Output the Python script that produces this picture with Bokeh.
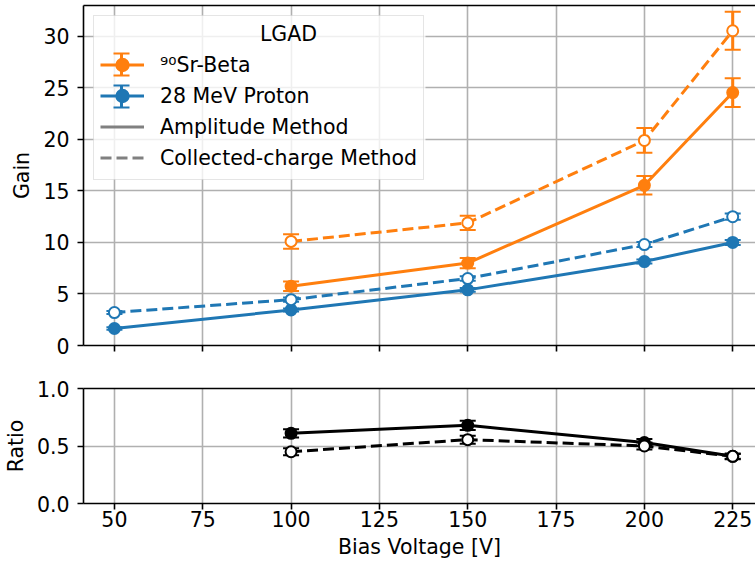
from bokeh.plotting import figure
from bokeh.layouts import column
from bokeh.models import (ColumnDataSource, Whisker, TeeHead, Legend, LegendItem,
                          LinearAxis, FixedTicker, Range1d, NumeralTickFormatter, Label,
                          BoxAnnotation)
from bokeh.embed import file_html
from bokeh.resources import INLINE

# ---- data -------------------------------------------------------------
x_ticks = [50, 75, 100, 125, 150, 175, 200, 225]
gain_ticks = [0, 5, 10, 15, 20, 25, 30]
ratio_ticks = [0.0, 0.5, 1.0]

voltage_beta = [100, 150, 200, 225]
voltage_proton = [50, 100, 150, 200, 225]

beta_amp = [5.75, 8.0, 15.55, 24.55]
beta_amp_err = [0.45, 0.5, 0.9, 1.4]
beta_coll = [10.1, 11.9, 19.9, 30.55]
beta_coll_err = [0.7, 0.7, 1.2, 1.85]

proton_amp = [1.65, 3.45, 5.4, 8.15, 10.0]
proton_amp_err = [0.12, 0.15, 0.18, 0.2, 0.25]
proton_coll = [3.2, 4.45, 6.5, 9.8, 12.5]
proton_coll_err = [0.15, 0.2, 0.22, 0.25, 0.3]

ratio_amp = [0.61, 0.68, 0.53, 0.41]
ratio_amp_err = [0.035, 0.04, 0.03, 0.02]
ratio_coll = [0.45, 0.555, 0.50, 0.41]
ratio_coll_err = [0.03, 0.035, 0.03, 0.025]

# ---- style ------------------------------------------------------------
ORANGE = "#ff7f0e"
BLUE = "#1f77b4"
FONT = "DejaVu Sans"
FS = "20.5px"
GRID = "#b0b0b0"
LW = 3
DASH = "11 5"
NAN = float("nan")


def style_axes(fig):
    for ax in fig.axis:
        ax.axis_line_width = 1.6
        ax.axis_line_color = "black"
        ax.major_tick_line_width = 1.6
        ax.major_tick_out = 6
        ax.major_tick_in = 0
        ax.minor_tick_out = 0
        ax.minor_tick_in = 0
        ax.major_label_text_font = FONT
        ax.major_label_text_font_size = FS
        ax.major_label_text_color = "black"
        ax.axis_label_text_font = FONT
        ax.axis_label_text_font_size = FS
        ax.axis_label_text_font_style = "normal"
        ax.axis_label_text_color = "black"
    for g in fig.grid:
        g.grid_line_color = GRID
        g.grid_line_width = 1.6
    fig.outline_line_color = None
    fig.background_fill_color = "white"
    fig.border_fill_color = "white"
    # top border of the frame
    top = LinearAxis(ticker=FixedTicker(ticks=[]), major_tick_out=0, major_tick_in=0,
                     minor_tick_out=0, minor_tick_in=0, major_label_standoff=0,
                     axis_line_width=1.6, axis_line_color="black")
    fig.add_layout(top, "above")


def errorbar(fig, x, y, err, color, fill, dash=None, size=11):
    src = ColumnDataSource(dict(x=x, y=y,
                                lo=[v - e for v, e in zip(y, err)],
                                hi=[v + e for v, e in zip(y, err)]))
    fig.add_layout(Whisker(source=src, base="x", lower="lo", upper="hi",
                           dimension="height", line_color=color, line_width=LW,
                           lower_head=TeeHead(size=16, line_color=color, line_width=2),
                           upper_head=TeeHead(size=16, line_color=color, line_width=2)))
    kw = dict(line_dash=dash) if dash else {}
    ln = fig.line("x", "y", source=src, line_color=color, line_width=LW, **kw)
    sc = fig.scatter("x", "y", source=src, size=size, marker="circle",
                     fill_color=fill, line_color=color, line_width=2)
    return ln, sc


x_range = Range1d(41.25, 231.45)

# ---- gain panel -------------------------------------------------------
p = figure(width=755, height=365, x_range=x_range, y_range=Range1d(0, 33),
           output_backend="svg", toolbar_location=None,
           min_border_left=82, min_border_right=0, min_border_top=5, min_border_bottom=20)
p.xaxis.ticker = FixedTicker(ticks=x_ticks)
p.xaxis.major_label_overrides = {t: "" for t in x_ticks}
p.yaxis.ticker = FixedTicker(ticks=gain_ticks)
p.yaxis.axis_label = "Gain"
p.yaxis.major_label_standoff = 8
p.yaxis.axis_label_standoff = 6
style_axes(p)
p.xaxis.major_label_text_font_size = "0px"

b_amp_l, b_amp_s = errorbar(p, voltage_beta, beta_amp, beta_amp_err, ORANGE, ORANGE)
errorbar(p, voltage_beta, beta_coll, beta_coll_err, ORANGE, "white", DASH)
p_amp_l, p_amp_s = errorbar(p, voltage_proton, proton_amp, proton_amp_err, BLUE, BLUE)
errorbar(p, voltage_proton, proton_coll, proton_coll_err, BLUE, "white", DASH)

# key-only line styles for the two methods (no data of their own)
solid_key = p.line(x=[NAN], y=[NAN], line_color="gray", line_width=LW)
dash_key = p.line(x=[NAN], y=[NAN], line_color="gray", line_width=LW, line_dash=DASH)

# translucent backing of the legend box (frame-relative screen units)
p.add_layout(BoxAnnotation(left=10, right=342, top=330, bottom=166,
                           left_units="screen", right_units="screen",
                           top_units="screen", bottom_units="screen",
                           fill_color="white", fill_alpha=0.8, line_color=None,
                           level="annotation"))

legend = Legend(items=[
    LegendItem(label="\u2079\u2070Sr-Beta", renderers=[b_amp_l, b_amp_s]),
    LegendItem(label="28 MeV Proton", renderers=[p_amp_l, p_amp_s]),
    LegendItem(label="Amplitude Method", renderers=[solid_key]),
    LegendItem(label="Collected-charge Method", renderers=[dash_key]),
], location="top_left", title=" ", level="annotation",
    title_text_font=FONT, title_text_font_size=FS, title_text_font_style="normal",
    title_standoff=3,
    label_text_font=FONT, label_text_font_size=FS, label_text_color="black",
    glyph_width=44, glyph_height=31, label_height=31, label_standoff=16,
    padding=6, spacing=0, margin=10,
    border_line_color="#cccccc", border_line_width=1.5,
    background_fill_alpha=0)
p.add_layout(legend)

# error-bar stems for the two series keys (frame-relative screen units)
key_src = ColumnDataSource(dict(x=[38, 38], lo=[270, 238], hi=[292, 260],
                                c=[ORANGE, BLUE]))
p.add_layout(Whisker(source=key_src, base="x", lower="lo", upper="hi",
                     base_units="screen", lower_units="screen", upper_units="screen",
                     dimension="height", line_color={"field": "c"}, line_width=LW,
                     level="overlay",
                     lower_head=TeeHead(size=16, line_color={"field": "c"}, line_width=2),
                     upper_head=TeeHead(size=16, line_color={"field": "c"}, line_width=2)))

p.add_layout(Label(x=205, y=312, x_units="screen", y_units="screen", text="LGAD",
                   text_align="center", text_baseline="middle", level="overlay",
                   text_font=FONT, text_font_size=FS, text_color="black"))

# ---- ratio panel ------------------------------------------------------
p2 = figure(width=755, height=201, x_range=x_range, y_range=Range1d(0, 1),
            output_backend="svg", toolbar_location=None,
            min_border_left=82, min_border_right=0, min_border_top=23, min_border_bottom=63)
p2.xaxis.ticker = FixedTicker(ticks=x_ticks)
p2.xaxis.axis_label = "Bias Voltage [V]"
p2.xaxis.major_label_standoff = 1
p2.xaxis.axis_label_standoff = 5
p2.yaxis.ticker = FixedTicker(ticks=ratio_ticks)
p2.yaxis.formatter = NumeralTickFormatter(format="0.0")
p2.yaxis.axis_label = "Ratio"
p2.yaxis.major_label_standoff = 8
p2.yaxis.axis_label_standoff = 6
style_axes(p2)

errorbar(p2, voltage_beta, ratio_amp, ratio_amp_err, "black", "black")
errorbar(p2, voltage_beta, ratio_coll, ratio_coll_err, "black", "white", DASH)

layout = column(p, p2, spacing=0)
open("out.html", "w").write(file_html(layout, INLINE))
